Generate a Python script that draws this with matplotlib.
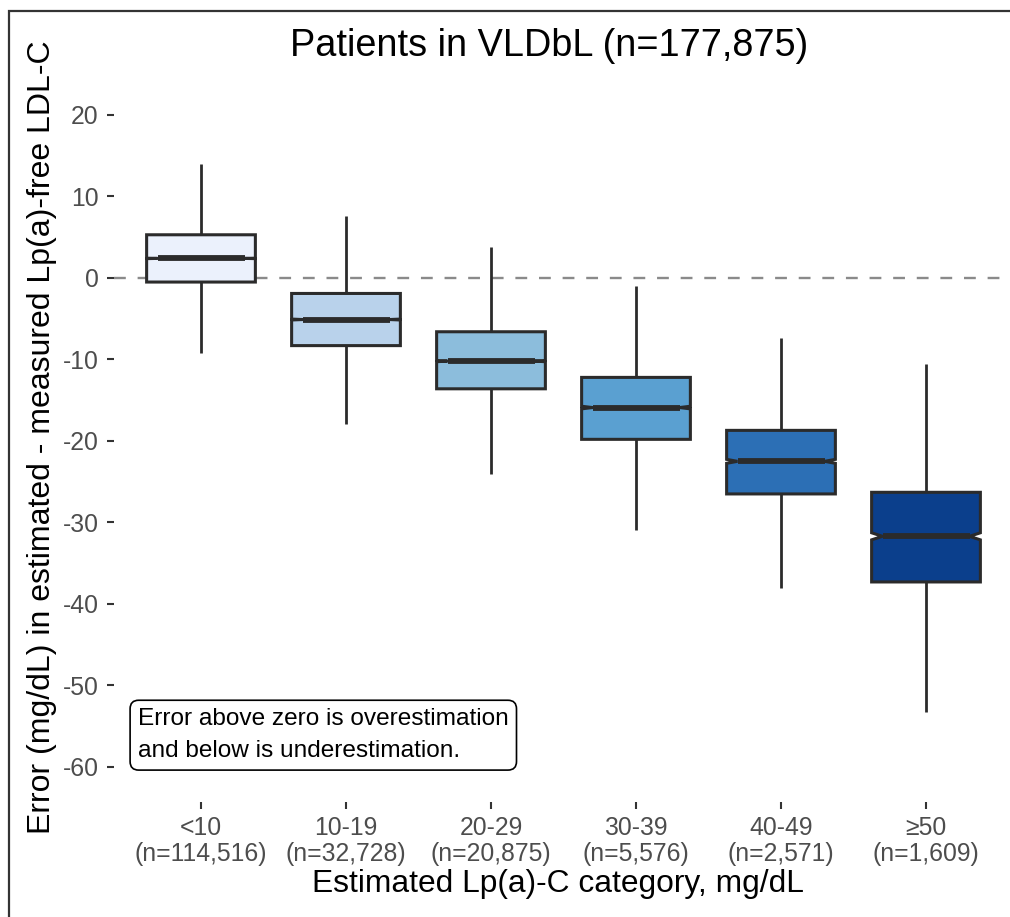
import matplotlib
matplotlib.use('Agg')
import matplotlib.pyplot as plt
from matplotlib.patches import Polygon, Rectangle
import numpy as np

plt.rcParams['font.family'] = ['Liberation Sans', 'DejaVu Sans']

# ---- data ----
categories = ['<10', '10-19', '20-29', '30-39', '40-49', '≥50']
counts = [114516, 32728, 20875, 5576, 2571, 1609]
whisker_high = [14.0, 7.6, 3.8, -1.0, -7.4, -10.5]
q3 = [5.3, -1.9, -6.6, -12.2, -18.7, -26.3]
median = [2.4, -5.1, -10.2, -15.9, -22.5, -31.7]
q1 = [-0.5, -8.3, -13.6, -19.8, -26.5, -37.3]
whisker_low = [-9.2, -17.9, -24.0, -30.9, -38.0, -53.2]
colors = ['#EBF1FC', '#B9D2EB', '#8CBDDC', '#5AA0D1', '#2C6FB5', '#0B3F8C']
y_ticks = [20, 10, 0, -10, -20, -30, -40, -50, -60]

title = 'Patients in VLDbL (n=177,875)'
xlabel = 'Estimated Lp(a)-C category, mg/dL'
ylabel = 'Error (mg/dL) in estimated - measured Lp(a)-free LDL-C'
note = 'Error above zero is overestimation\nand below is underestimation.'

W, H = 1010, 917
fig = plt.figure(figsize=(W / 100, H / 100), dpi=100)
fig.patch.set_facecolor('white')

ax_left, ax_right, ax_top, ax_bot = 114, 1013, 94.6, 802
ax = fig.add_axes([ax_left / W, 1 - ax_bot / H, (ax_right - ax_left) / W, (ax_bot - ax_top) / H])
ax.set_xlim(0.4, len(categories) + 0.6)
ax.set_ylim(-64.3, 22.5)
for s in ax.spines.values():
    s.set_visible(False)
ax.set_facecolor('white')

ax.axhline(0, color='#8a8a8a', lw=1.7, ls=(0, (5, 5)), zorder=0)

edge = '#2b2b2b'
hw = 0.375
nw = 0.8 * hw
for i in range(len(categories)):
    x = i + 1
    notch = 1.58 * (q3[i] - q1[i]) / np.sqrt(counts[i])
    ax.plot([x, x], [q3[i], whisker_high[i]], color=edge, lw=2.0, solid_capstyle='butt', zorder=1)
    ax.plot([x, x], [q1[i], whisker_low[i]], color=edge, lw=2.0, solid_capstyle='butt', zorder=1)
    verts = [
        (x - hw, q1[i]), (x - hw, median[i] - notch), (x - nw, median[i]),
        (x - hw, median[i] + notch), (x - hw, q3[i]), (x + hw, q3[i]),
        (x + hw, median[i] + notch), (x + nw, median[i]), (x + hw, median[i] - notch),
        (x + hw, q1[i]),
    ]
    ax.add_patch(Polygon(verts, closed=True, fc=colors[i], ec=edge, lw=2.2, joinstyle='miter', zorder=2))
    ax.plot([x - nw, x + nw], [median[i], median[i]], color=edge, lw=4.2, solid_capstyle='butt', zorder=3)

ax.set_yticks(y_ticks)
ax.set_yticklabels([str(v) for v in y_ticks])
ax.set_xticks(range(1, len(categories) + 1))
ax.set_xticklabels([f'{c}\n(n={n:,})' for c, n in zip(categories, counts)], linespacing=1.12)
ax.tick_params(axis='both', colors='#333333', labelcolor='#4d4d4d', labelsize=17.8, width=1.5, length=5)
ax.tick_params(axis='y', pad=6)
ax.tick_params(axis='x', pad=5)

ax.text(0.565, -56.1, note, fontsize=17.6, ha='left', va='center', linespacing=1.6, color='black',
        bbox=dict(boxstyle='round,pad=0.32,rounding_size=0.35', fc='white', ec='black', lw=1.2), zorder=5)

fig.text(549 / W, 1 - 46 / H, title, fontsize=27.3, ha='center', va='center', color='black')
fig.text(558 / W, 1 - 884 / H, xlabel, fontsize=22.9, ha='center', va='center', color='black')
fig.text(42 / W, 1 - 437 / H, ylabel, fontsize=23.0, ha='center', va='center', rotation=90, color='black')

fig.patches.append(Rectangle((9 / W, -0.05), 1.1, (1 - 11 / H) + 0.05, transform=fig.transFigure,
                             fill=False, ec='#333333', lw=1.6, zorder=10))

fig.savefig('out.png', dpi=100)
